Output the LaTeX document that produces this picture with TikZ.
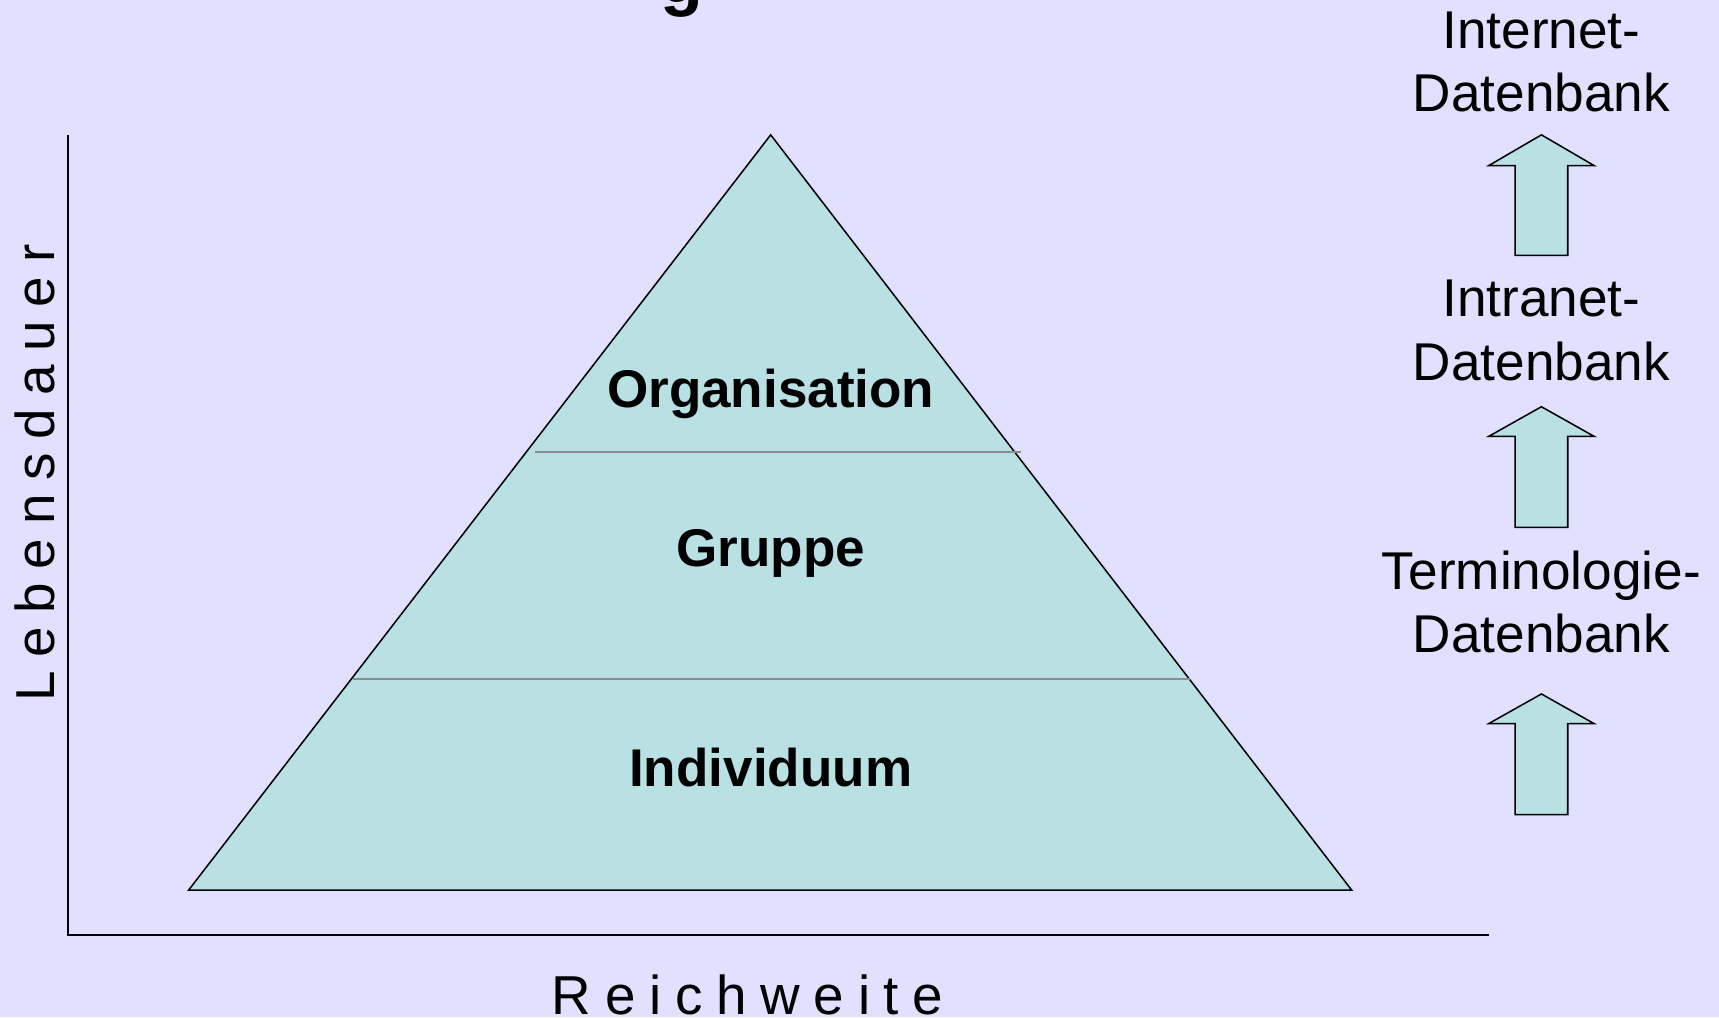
\documentclass[tikz,border=0pt]{standalone}
\usepackage{fontspec}
\setmainfont{Liberation Sans}
\newfontfamily\spacedfont[LetterSpace=25]{Liberation Sans}
\definecolor{bgcol}{RGB}{225,225,255}
\definecolor{pyrfill}{RGB}{185,225,227}
\definecolor{divgray}{RGB}{140,140,140}
\tikzset{
  outline/.style={draw=black, line width=0.7pt, line join=miter},
  divider/.style={draw=divgray, line width=0.8pt},
  levellabel/.style={font=\fontsize{24.2}{29}\selectfont\bfseries, anchor=base, inner sep=0pt},
  dblabel/.style={font=\fontsize{24.25}{29}\selectfont, anchor=base, inner sep=0pt},
  axislabel/.style={font=\spacedfont\fontsize{25}{30}\selectfont, anchor=base, inner sep=0pt},
  axisline/.style={draw=black, line width=0.75pt},
}
\newcommand\myblockarrow[4]{% center x, apex y, head base y, bottom y
  \filldraw[outline, fill=pyrfill] (#1-24,#4) -- (#1-24,#3) -- (#1-48,#3) -- (#1,#2)
     -- (#1+48,#3) -- (#1+24,#3) -- (#1+24,#4) -- cycle;}
\begin{document}
\begin{tikzpicture}[x=0.5pt, y=-0.5pt]
\useasboundingbox (0,0) rectangle (1568,928);
\clip (0,0) rectangle (1568,928);
\fill[bgcol] (0,0) rectangle (1568,928);

% cut-off title (only descender visible)
\node[font=\fontsize{32}{38}\selectfont\bfseries, anchor=base, inner sep=0pt] (title) at (622,2.6) {g};

% axes
\coordinate (origin) at (62,853);
\coordinate (ytop) at (62,123);
\coordinate (xend) at (1358,853);
\draw[axisline] (ytop) -- (origin) -- (xend);
\node[axislabel, rotate=90] (ylab) at (50,431.5) {Lebensdauer};
\node[axislabel] (xlab) at (682,925) {Reichweite};

% pyramid
\coordinate (apex) at (703,123);
\coordinate (bl) at (172,812);
\coordinate (br) at (1233,812);
\filldraw[outline, fill=pyrfill] (apex) -- (br) -- (bl) -- cycle;
\coordinate (d1l) at (488,412);
\coordinate (d1r) at (931,412);
\coordinate (d2l) at (322,619);
\coordinate (d2r) at (1085,619);
\draw[divider] (d1l) -- (d1r);
\draw[divider] (d2l) -- (d2r);

\node[levellabel] (org) at (703,372) {Organisation};
\node[levellabel] (grp) at (703,517) {Gruppe};
\node[levellabel] (ind) at (703,717) {Individuum};

% right column
\node[dblabel] (inet1) at (1406,44) {Internet-};
\node[dblabel] (inet2) at (1406,102) {Datenbank};
\node[dblabel] (intra1) at (1406,289) {Intranet-};
\node[dblabel] (intra2) at (1406,347) {Datenbank};
\node[dblabel] (term1) at (1406,538) {Terminologie-};
\node[dblabel] (term2) at (1406,595) {Datenbank};

\myblockarrow{1406}{123}{151}{233}
\myblockarrow{1406}{371}{398}{481}
\myblockarrow{1406}{633}{660}{743}
\end{tikzpicture}
\end{document}
